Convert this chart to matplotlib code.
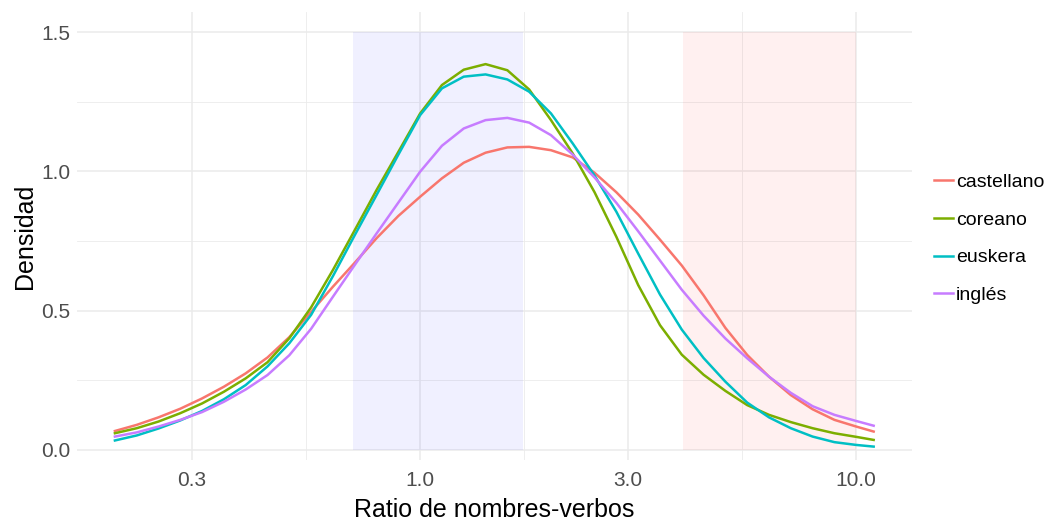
import matplotlib
matplotlib.use("Agg")
import matplotlib.pyplot as plt
from matplotlib.ticker import FixedLocator, NullFormatter
import numpy as np

plt.rcParams['font.family'] = ['Liberation Sans', 'DejaVu Sans']

# ratio values in steps of 0.05 decades
log_ratio = [-0.70, -0.65, -0.60, -0.55, -0.50, -0.45, -0.40, -0.35, -0.30, -0.25,
             -0.20, -0.15, -0.10, -0.05, 0.00, 0.05, 0.10, 0.15, 0.20, 0.25,
             0.30, 0.35, 0.40, 0.45, 0.50, 0.55, 0.60, 0.65, 0.70, 0.75,
             0.80, 0.85, 0.90, 0.95, 1.00, 1.04]
ratio = [10 ** v for v in log_ratio]

castellano = [0.068, 0.090, 0.117, 0.148, 0.185, 0.227, 0.275, 0.332, 0.405, 0.496,
              0.586, 0.672, 0.760, 0.840, 0.909, 0.975, 1.031, 1.067, 1.086, 1.088,
              1.076, 1.050, 0.995, 0.925, 0.845, 0.755, 0.662, 0.555, 0.438, 0.341,
              0.263, 0.197, 0.146, 0.108, 0.084, 0.066]
coreano = [0.060, 0.078, 0.102, 0.132, 0.167, 0.209, 0.257, 0.315, 0.401, 0.512,
           0.646, 0.789, 0.933, 1.070, 1.208, 1.310, 1.365, 1.385, 1.363, 1.294,
           1.184, 1.064, 0.925, 0.765, 0.592, 0.448, 0.342, 0.270, 0.212, 0.161,
           0.126, 0.100, 0.078, 0.060, 0.047, 0.036]
euskera = [0.034, 0.052, 0.077, 0.106, 0.140, 0.182, 0.233, 0.300, 0.383, 0.485,
           0.624, 0.771, 0.915, 1.060, 1.202, 1.298, 1.340, 1.348, 1.330, 1.286,
           1.208, 1.100, 0.985, 0.855, 0.705, 0.558, 0.432, 0.330, 0.245, 0.170,
           0.117, 0.078, 0.048, 0.028, 0.018, 0.012]
ingles = [0.048, 0.063, 0.084, 0.108, 0.136, 0.173, 0.217, 0.269, 0.340, 0.435,
          0.550, 0.664, 0.777, 0.888, 0.999, 1.092, 1.154, 1.184, 1.192, 1.175,
          1.130, 1.060, 0.978, 0.887, 0.785, 0.680, 0.575, 0.482, 0.400, 0.329,
          0.263, 0.205, 0.157, 0.126, 0.104, 0.087]

series = [("castellano", castellano, "#F8766D"),
          ("coreano", coreano, "#7CAE00"),
          ("euskera", euskera, "#00BFC4"),
          ("inglés", ingles, "#C77CFF")]

# shaded bands
blue_band = (0.70, 1.72)
red_band = (4.0, 10.0)
band_top = 1.5

x_ticks = [0.3, 1.0, 3.0, 10.0]
x_tick_labels = ["0.3", "1.0", "3.0", "10.0"]
y_ticks = [0.0, 0.5, 1.0, 1.5]

fig = plt.figure(figsize=(10.5, 5.23), dpi=100)
ax = fig.add_axes([0.0733, 0.1205, 0.7953, 0.8565])

ax.fill_between(blue_band, 0, band_top, color="blue", alpha=0.06, lw=0, zorder=2)
ax.fill_between(red_band, 0, band_top, color="red", alpha=0.06, lw=0, zorder=2)

for name, vals, col in series:
    ax.plot(ratio, vals, color=col, lw=1.8, label=name, zorder=3,
            solid_joinstyle='round')

ax.set_xscale('log')
ax.set_xlim(10 ** -0.787, 10 ** 1.128)
ax.set_ylim(-0.036, 1.572)

ax.xaxis.set_major_locator(FixedLocator(x_ticks))
ax.set_xticklabels(x_tick_labels)
lx = np.log10(x_ticks)
ax.xaxis.set_minor_locator(FixedLocator(10 ** ((lx[:-1] + lx[1:]) / 2)))
ax.xaxis.set_minor_formatter(NullFormatter())
ax.yaxis.set_major_locator(FixedLocator(y_ticks))
ax.set_yticklabels(["0.0", "0.5", "1.0", "1.5"])
ax.yaxis.set_minor_locator(FixedLocator([0.25, 0.75, 1.25]))

ax.grid(which='major', color="#EBEBEB", lw=1.1, zorder=0)
ax.grid(which='minor', color="#EBEBEB", lw=0.6, zorder=0)
ax.set_axisbelow(True)
for s in ax.spines.values():
    s.set_visible(False)
ax.tick_params(which='both', length=0, labelsize=15, labelcolor="#4D4D4D")
ax.tick_params(axis='x', pad=8)
ax.tick_params(axis='y', pad=5)

ax.set_xlabel("Ratio de nombres-verbos", fontsize=18, labelpad=6)
ax.set_ylabel("Densidad", fontsize=18, labelpad=3)

ax.legend(loc='center left', bbox_to_anchor=(1.005, 0.494), frameon=False,
          fontsize=14, handlelength=1.0, handletextpad=0.15, labelspacing=1.03)

fig.savefig("out.png", dpi=100)
